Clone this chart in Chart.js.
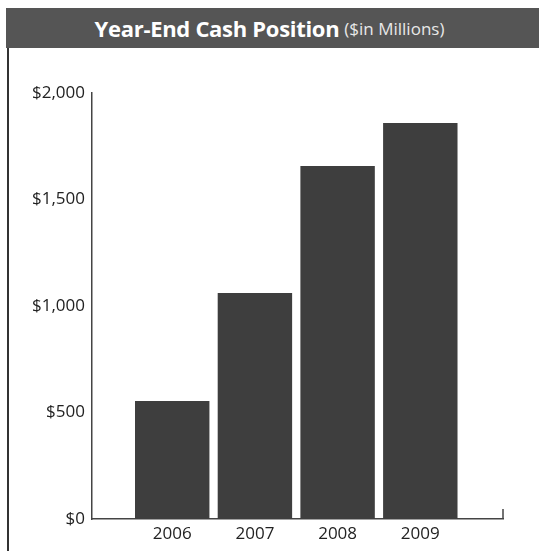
<!DOCTYPE html>
<html>
<head>
<meta charset="utf-8">
<script src="https://cdn.jsdelivr.net/npm/chart.js@4"></script>
<style>
    html, body { margin: 0; padding: 0; background: #fff; }
    #wrap { position: relative; width: 539px; height: 551px; overflow: hidden; }
    #header {
        position: absolute; left: 6px; top: 8px; width: 533px; height: 40px;
        background: #555555; color: #fff;
        display: flex; align-items: center; justify-content: center;
        font-family: "Open Sans", sans-serif; padding-right: 6px; box-sizing: border-box;
    }
    #header b { font-size: 22px; font-weight: 700; letter-spacing: -0.3px; }
    #header span { font-size: 17px; font-weight: 400; color: #e8e8e8; margin-left: 5px; }
    #leftRule { position: absolute; left: 7px; top: 48px; width: 2px; height: 503px; background: #333; }
    #cashChart { position: absolute; left: 0; top: 0; }
</style>
</head>
<body>
<div id="wrap">
    <div id="header"><b>Year-End Cash Position</b><span>($in Millions)</span></div>
    <div id="leftRule"></div>
    <canvas id="cashChart" width="539" height="551"></canvas>
</div>
<script>
// Year-end cash, $ millions
const years = [2006, 2007, 2008, 2009];
const cashValues = [554, 1061, 1657, 1859];
const yTickValues = [0, 500, 1000, 1500, 2000];

const axisColor = "#444444";

// small upward tick at the right end of the x axis
const endTickPlugin = {
    id: "endTick",
    afterDraw(chart) {
        const ctx = chart.ctx;
        const x = chart.scales.x.right;
        const y = chart.scales.y.bottom;
        ctx.save();
        ctx.strokeStyle = axisColor;
        ctx.lineWidth = 1.5;
        ctx.beginPath();
        ctx.moveTo(x, y);
        ctx.lineTo(x, y - 10);
        ctx.stroke();
        ctx.restore();
    },
};

new Chart(document.getElementById("cashChart").getContext("2d"), {
    type: "bar",
    data: {
        datasets: [
            {
                data: years.map((yr, i) => ({ x: yr, y: cashValues[i] })),
                backgroundColor: "#3e3e3e",
                borderWidth: 0,
                barPercentage: 0.9,
                categoryPercentage: 1,
            },
        ],
    },
    options: {
        responsive: false,
        animation: false,
        layout: {
            padding: { top: 93, right: 36, bottom: 0, left: 0 },
        },
        plugins: {
            legend: { display: false },
            tooltip: { enabled: false },
        },
        scales: {
            x: {
                type: "linear",
                min: 2005.03,
                max: 2010,
                offset: false,
                afterBuildTicks: (scale) => {
                    scale.ticks = years.map((v) => ({ value: v }));
                },
                afterFit: (scale) => {
                    scale.height = 32;
                },
                grid: { display: false, drawTicks: false },
                border: { display: true, color: axisColor, width: 1.5 },
                ticks: {
                    padding: 5,
                    color: "#222",
                    font: { family: "Open Sans", size: 17 },
                    callback: (v) => String(v),
                },
            },
            y: {
                min: 0,
                max: 2000,
                afterBuildTicks: (scale) => {
                    scale.ticks = yTickValues.map((v) => ({ value: v }));
                },
                afterFit: (scale) => {
                    scale.width = 92;
                },
                grid: { display: false, drawTicks: false },
                border: { display: true, color: axisColor, width: 1.5 },
                ticks: {
                    padding: 7,
                    color: "#222",
                    font: { family: "Open Sans", size: 17 },
                    callback: (v) => "$" + v.toLocaleString("en-US"),
                },
            },
        },
    },
    plugins: [endTickPlugin],
});
</script>
</body>
</html>
